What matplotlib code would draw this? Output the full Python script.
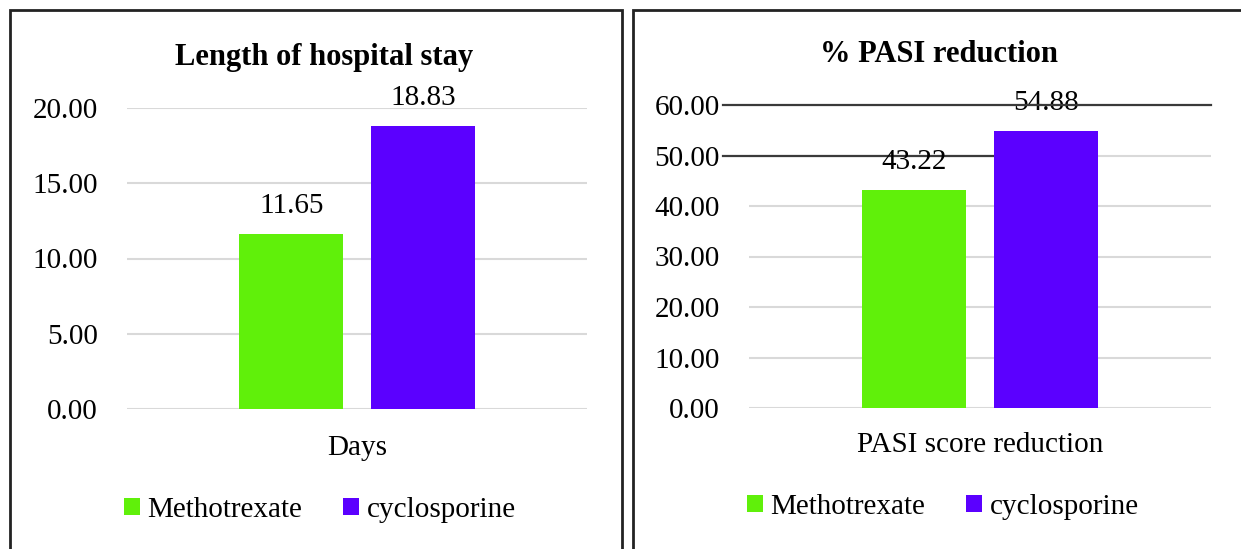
import matplotlib.pyplot as plt
from matplotlib.patches import Rectangle, Patch

# group means for the two treatment arms
drugs = ['Methotrexate', 'cyclosporine']
colors = ['#60f00a', '#5b00ff']

stay_days = [11.65, 18.83]
pasi_reduction = [43.22, 54.88]

plt.rcParams['font.family'] = ['Liberation Serif', 'DejaVu Serif']
FS = 21
BAR_W = 0.226
OFFS = [-0.143, 0.143]


def draw_panel(ax, values, category, ymax, step, xpad):
    ax.set_xlim(-0.5, 0.5)
    ax.set_ylim(0, ymax)
    ticks = [i * step for i in range(int(ymax / step) + 1)]
    ax.set_yticks(ticks)
    ax.set_yticklabels(['%.2f' % t for t in ticks])
    ax.grid(axis='y', color='#d9d9d9', linewidth=1.5, zorder=0)
    ax.set_axisbelow(True)
    for s in ax.spines.values():
        s.set_visible(False)
    ax.tick_params(axis='both', length=0, labelsize=FS, colors='black')
    ax.tick_params(axis='y', pad=21)
    ax.tick_params(axis='x', pad=xpad)
    ax.set_xticks([0])
    ax.set_xticklabels([category])
    for off, v, c in zip(OFFS, values, colors):
        ax.bar(off, v, width=BAR_W, color=c, zorder=2)
        ax.annotate('%.2f' % v, (off, v), xytext=(0, 20), textcoords='offset points',
                    ha='center', va='center', fontsize=FS, zorder=3)


fig = plt.figure(figsize=(12.41, 5.49), dpi=100, facecolor='white')

# panel frames
for x0, x1 in [(10, 622), (633, 1250)]:
    fig.patches.append(Rectangle((x0 / 1241, -0.05), (x1 - x0) / 1241, (549 - 10) / 549 + 0.05,
                                 transform=fig.transFigure, fill=False,
                                 edgecolor='#222222', linewidth=2))

ax1 = fig.add_axes([127 / 1241, 140 / 549, 460 / 1241, 301 / 549])
draw_panel(ax1, stay_days, 'Days', 20, 5, 19)

ax2 = fig.add_axes([749 / 1241, 141 / 549, 462 / 1241, 303 / 549])
draw_panel(ax2, pasi_reduction, 'PASI score reduction', 60, 10, 17)

# stray dark rules across the upper part of the PASI chart
x_left = -0.5 - 26 / 462
ax2.plot([x_left, 0.5], [60, 60], color='#3a3a3a', linewidth=1.6, clip_on=False, zorder=4)
ax2.plot([x_left, OFFS[1] - BAR_W / 2], [50, 50], color='#3a3a3a', linewidth=1.6,
         clip_on=False, zorder=1.5)

fig.text(324 / 1241, 1 - 58 / 549, 'Length of hospital stay', ha='center', va='center',
         fontsize=22, fontweight='bold')
fig.text(939 / 1241, 1 - 55 / 549, '% PASI reduction', ha='center', va='center',
         fontsize=22, fontweight='bold')

handles = [Patch(facecolor=c, edgecolor='none', label=d) for d, c in zip(drugs, colors)]
for cx, cy in [(320, 510), (943, 507)]:
    fig.legend(handles=handles, loc='center', bbox_to_anchor=(cx / 1241, 1 - cy / 549),
               ncol=2, frameon=False, fontsize=FS, handlelength=0.55, handleheight=0.55,
               handletextpad=0.25, columnspacing=1.4, borderpad=0)

fig.savefig('out.png', dpi=100, facecolor='white')
